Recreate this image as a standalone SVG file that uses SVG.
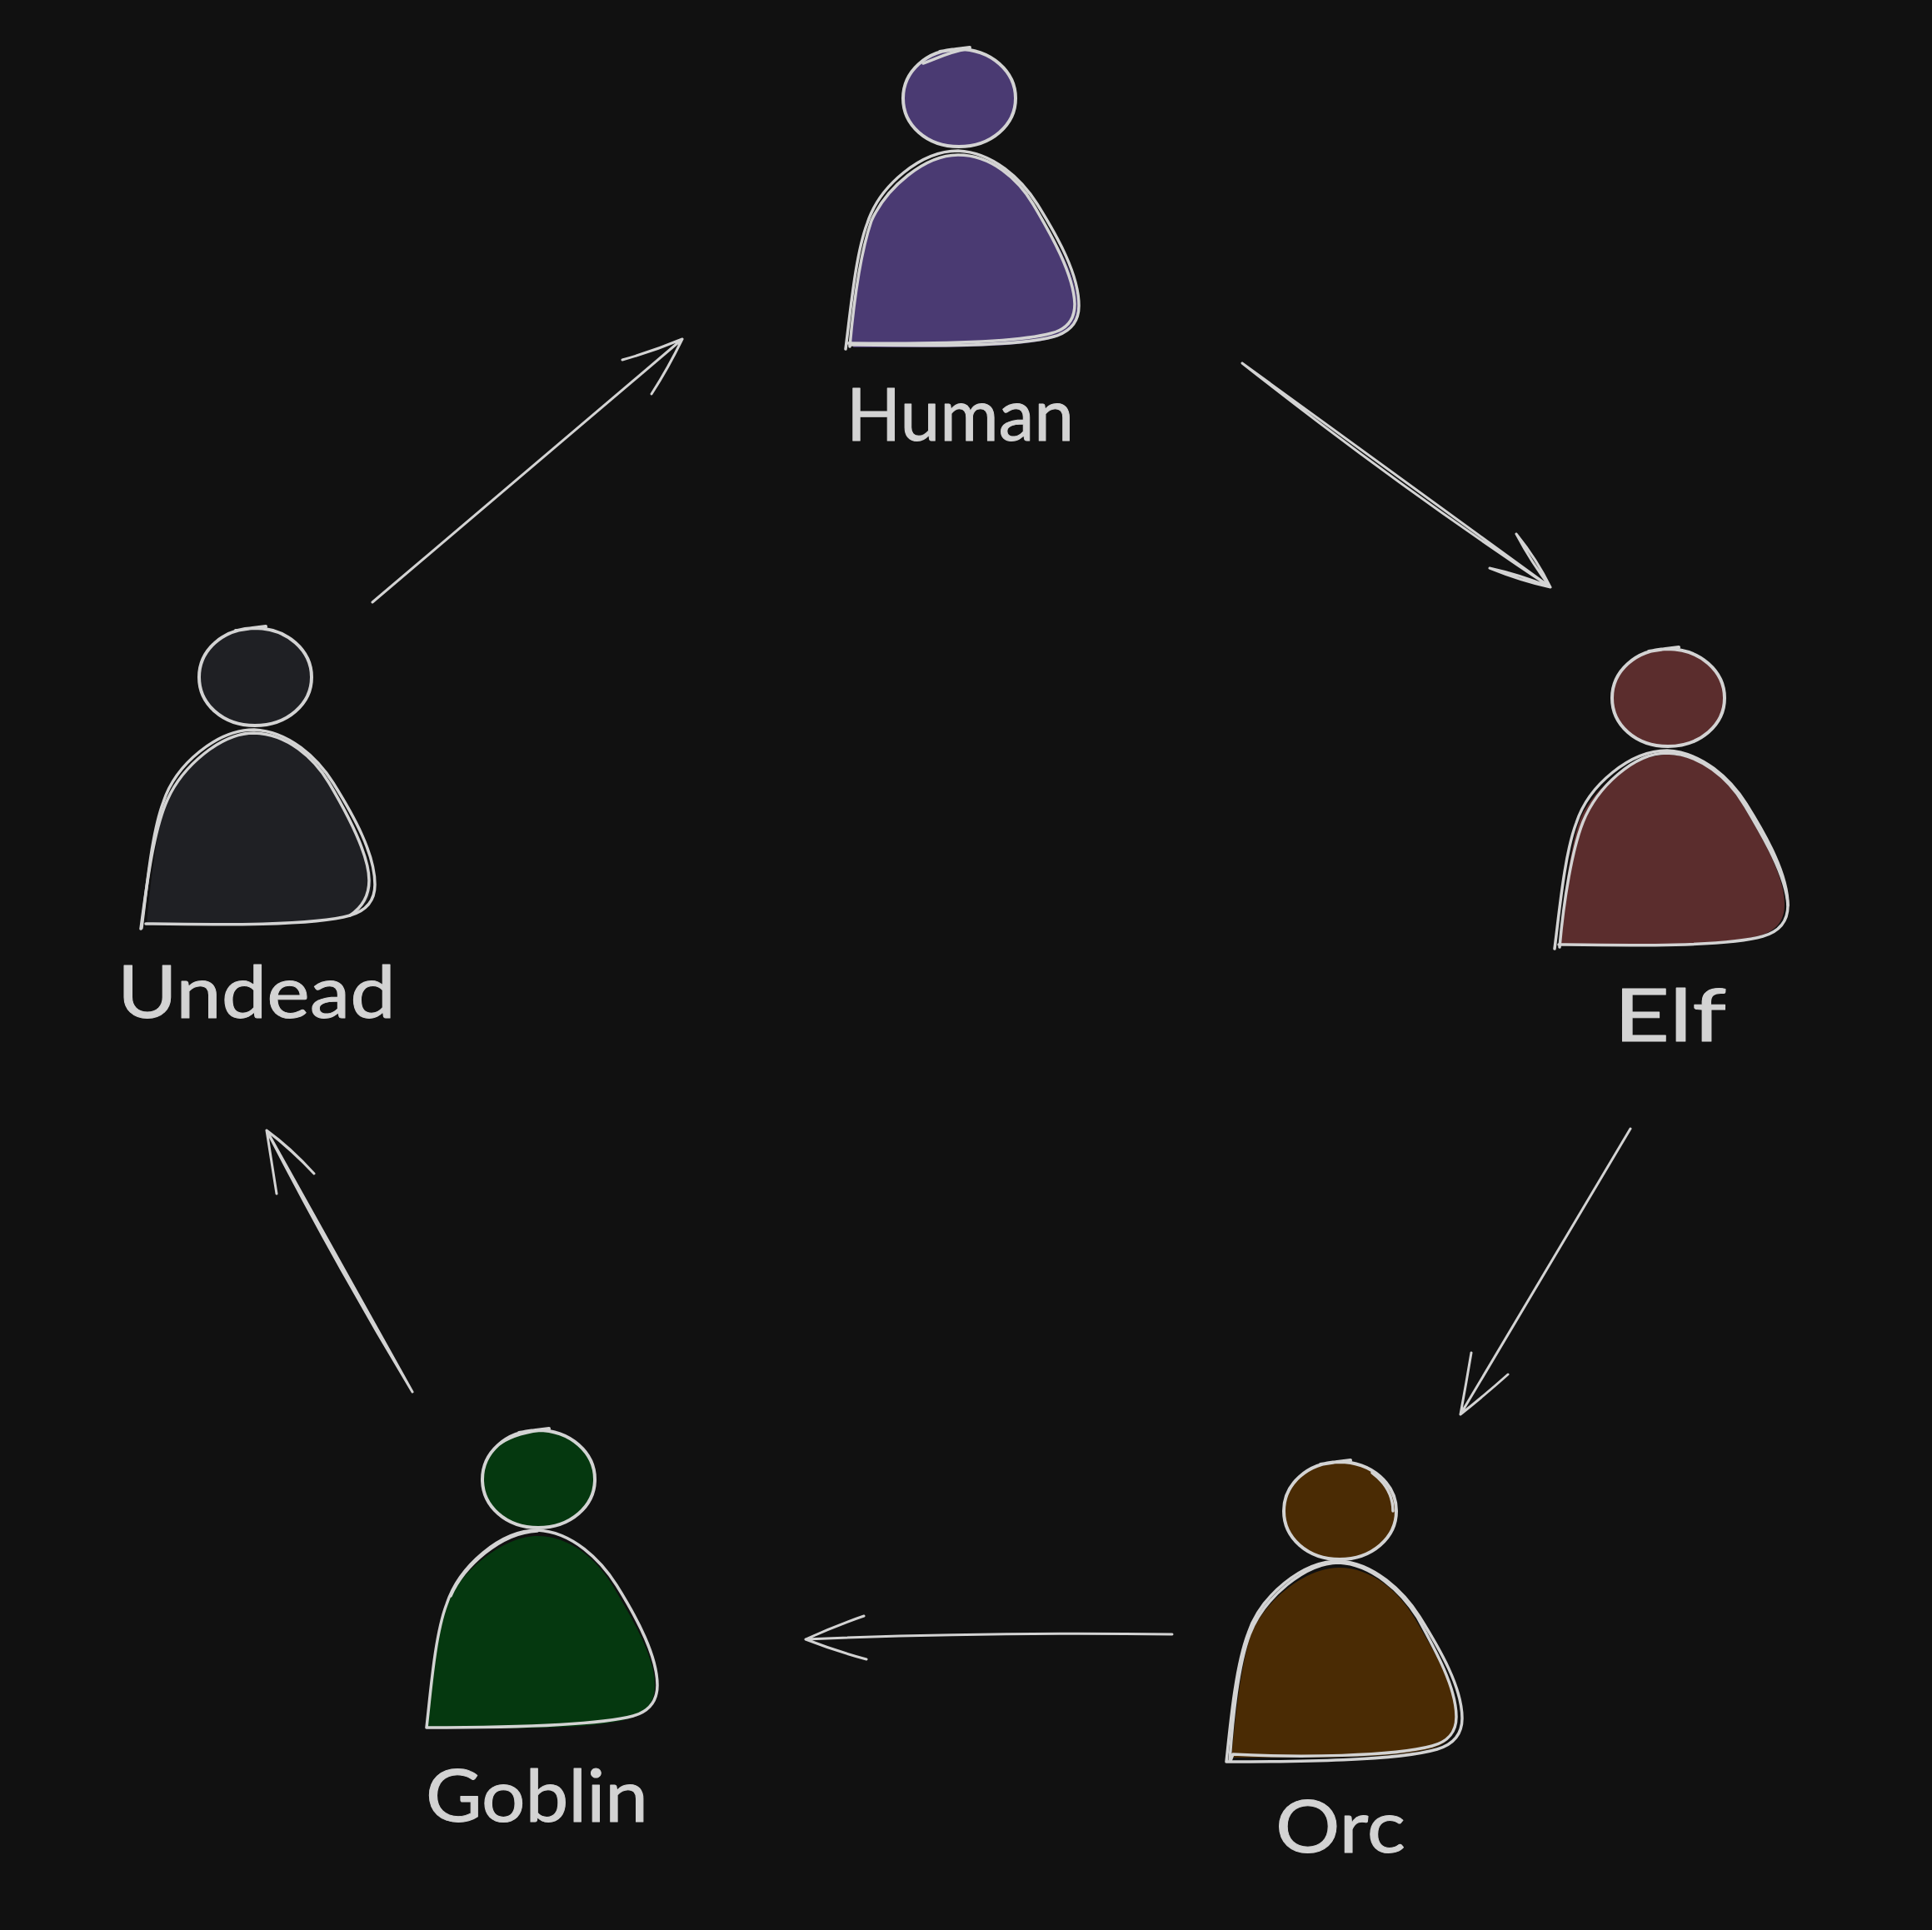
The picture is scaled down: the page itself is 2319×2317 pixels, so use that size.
<svg xmlns="http://www.w3.org/2000/svg" width="2319" height="2317" viewBox="0 0 2319 2317">
<style>
.s{fill:none;stroke:#d3d3d3;stroke-width:3.5px;stroke-linecap:round;stroke-linejoin:round}
.h{stroke-width:4px}
.t{font-family:"Lato","Noto Sans",sans-serif;font-size:88px;fill:#d3d3d3;stroke:#d3d3d3;stroke-width:1px;stroke-linejoin:round}
.a{fill:none;stroke:#d3d3d3;stroke-width:3px;stroke-linecap:round;stroke-linejoin:round}
</style>
<defs>
<path id="bf" d="M1021 415C1026 360 1033 300 1045 265C1062 225 1110 186 1150 186C1190 186 1222 215 1240 245C1262 282 1291 330 1291 365C1291 385 1282 397 1262 403C1215 416 1100 414 1021 414Z"/>
<path id="hf" d="M1084 118C1084 86 1112 60 1150 59C1190 59 1219 86 1219 118C1219 150 1190 176 1151 176C1112 176 1084 150 1084 118Z"/>
<path id="head" class="s h" d="M1219 118C1219 150 1190 176 1151 176C1112 176 1084 150 1084 118C1084 86 1112 60 1150 59C1190 59 1219 86 1219 118M1128 62Q1146 59 1164 57"/>
<path id="body" class="s" d="M1015 419C1021 372 1027 305 1041 268C1056 222 1106 181 1150 181C1192 183 1226 215 1245 245C1270 285 1295 330 1295 367C1295 385 1286 398 1265 404C1220 417 1100 415 1020 414"/>
</defs>
<rect width="2319" height="2317" fill="#111111"/>
<g id="connectors">
<path class="a" d="M1491 436L1861 705M1491 436Q1676 582 1861 705M1820 641Q1845 672 1861 705M1820 641Q1838 675 1861 705M1788 682Q1825 690 1861 705M1788 682Q1825 697 1861 705"/>
<path class="a" d="M447 723L819 407M747 432Q783 422 819 407M782 473Q802 442 819 407"/>
<path class="a" d="M1957 1355L1753 1698M1766 1624Q1760 1660 1753 1698M1810 1650Q1782 1675 1753 1698"/>
<path class="a" d="M1407 1962C1260 1960 1110 1962 967 1968M1037 1940Q1002 1952 967 1968M1040 1992Q1003 1982 967 1968"/>
<path class="a" d="M495 1671L320 1357M495 1671Q404 1520 320 1357M377 1409Q349 1378 320 1357M377 1409Q352 1382 320 1357M332 1433Q326 1395 320 1357"/>
</g>
<g id="human">
<use href="#bf" fill="#4a3a72" x="3" y="3"/><use href="#bf" fill="#4a3a72"/><use href="#hf" fill="#4a3a72"/>
<use href="#head"/><path class="s" d="M1108 76C1125 70 1140 62 1160 59"/><use href="#body"/>
<path class="s" d="M1020 416C1025 360 1034 300 1046 265C1064 225 1110 186 1150 186C1190 186 1222 215 1240 245C1262 282 1289 330 1290 365C1290 382 1282 395 1262 400C1215 413 1100 413 1018 412"/>
<text class="t" x="1016" y="529" textLength="273" lengthAdjust="spacingAndGlyphs">Human</text>
</g>
<g id="elf" transform="translate(851 720)">
<use href="#bf" fill="#5b2d2d"/><use href="#hf" fill="#5b2d2d"/>
<use href="#head"/><use href="#body"/>
<path class="s" d="M1021 417C1026 360 1036 300 1049 267C1066 225 1110 184 1150 184C1190 185 1224 215 1242 245C1264 282 1293 330 1295 367"/>
<text class="t" x="1086" y="530" textLength="135" lengthAdjust="spacingAndGlyphs">Elf</text>
</g>
<g id="orc" transform="translate(457 1696)">
<use href="#bf" fill="#4a2b04"/><use href="#hf" fill="#4a2b04"/>
<use href="#head"/><path class="s" d="M1190 72C1206 84 1215 100 1215 118"/>
<path class="s" d="M1015 419C1020 372 1026 305 1041 265C1056 220 1106 178 1150 178C1192 180 1228 215 1247 245C1272 285 1298 330 1298 367C1298 385 1288 398 1268 404C1220 418 1100 419 1015 419"/>
<path class="s" d="M1019 418C1023 360 1030 300 1043 266C1060 222 1110 180 1150 180C1190 182 1225 215 1244 245C1266 285 1291 330 1291 365C1291 385 1280 395 1262 400C1215 413 1100 414 1023 410L1020 418"/>
<text class="t" x="1074" y="528" textLength="156" lengthAdjust="spacingAndGlyphs">Orc</text>
</g>
<g id="goblin" transform="translate(-505 1658)">
<use href="#bf" fill="#05380f" x="-4" y="3"/><use href="#bf" fill="#05380f"/><use href="#hf" fill="#05380f"/>
<use href="#head"/><path class="s" d="M1105 75C1120 65 1140 60 1162 58"/>
<path class="s" d="M1017 416C1022 372 1027 305 1041 268C1056 222 1106 179 1150 179C1192 181 1226 215 1245 245C1270 285 1294 330 1294 365C1294 383 1286 396 1265 402C1220 414 1100 416 1017 416"/>
<path class="s" d="M1046 258C1062 222 1106 182 1150 180"/>
<text class="t" x="1016" y="529" textLength="267" lengthAdjust="spacingAndGlyphs">Goblin</text>
</g>
<g id="undead" transform="translate(-845 695)">
<use href="#bf" fill="#1f2024"/><use href="#hf" fill="#1f2024"/>
<use href="#head"/><use href="#body"/>
<path class="s" d="M1014 420C1022 360 1030 300 1046 265C1064 225 1110 185 1150 185C1190 186 1222 215 1240 245C1262 282 1288 330 1288 362C1288 380 1280 394 1265 404"/>
<text class="t" x="986" y="527" textLength="334" lengthAdjust="spacingAndGlyphs">Undead</text>
</g>
</svg>
